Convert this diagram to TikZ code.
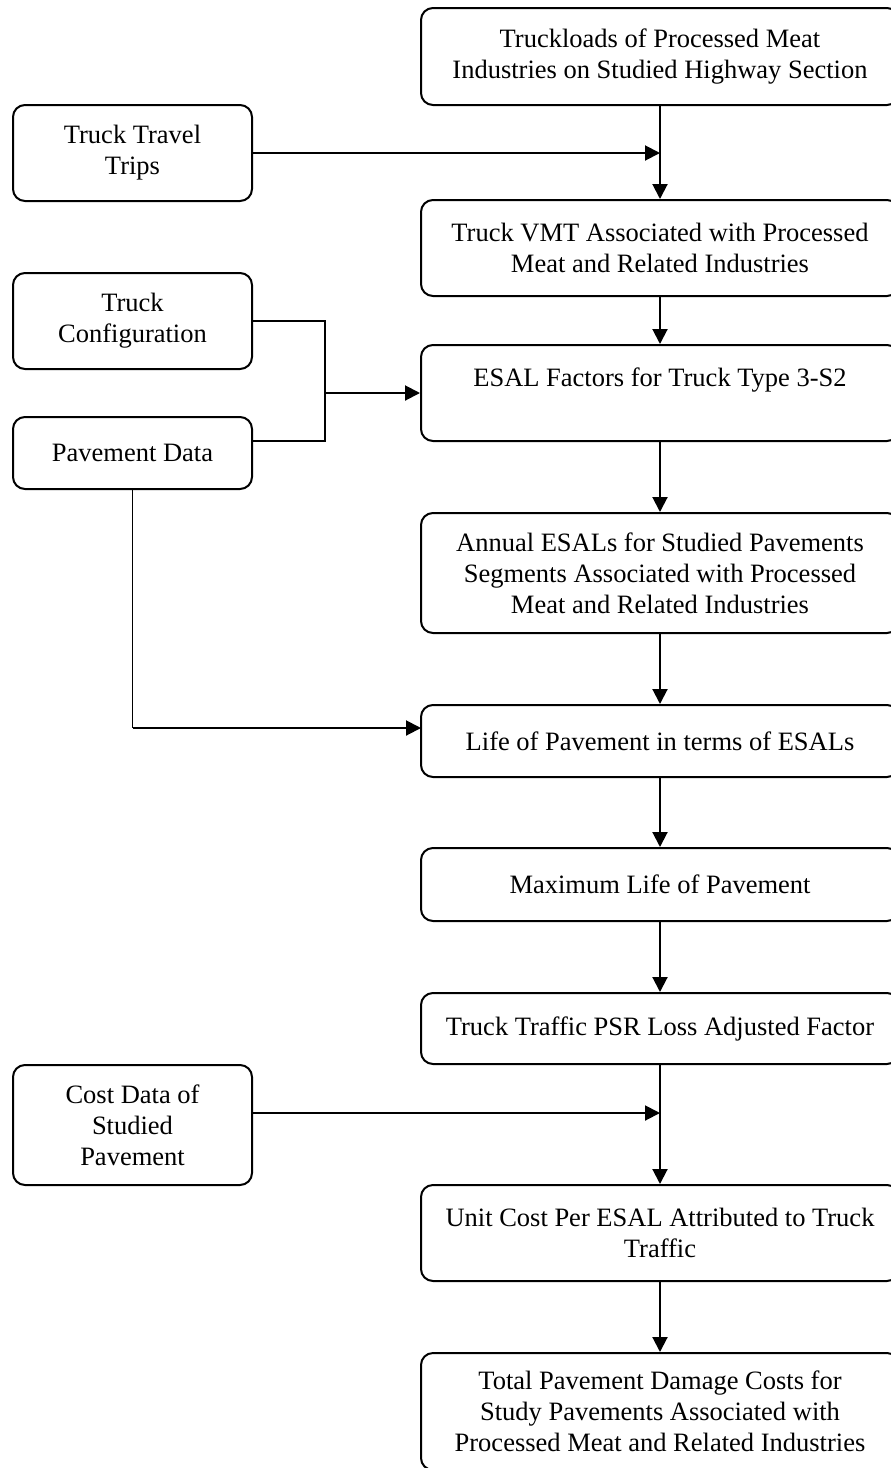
\documentclass[tikz,border=0pt]{standalone}
\usepackage{fontspec}
\setmainfont{Liberation Serif}
\usetikzlibrary{arrows.meta,calc}
\begin{document}
\begin{tikzpicture}[x=1pt,y=-1pt,
  box/.style={draw=black,line width=2pt,rounded corners=12pt,align=center,inner sep=0pt,
    font=\fontsize{26.5}{31}\selectfont},
  rbox/.style={box,minimum width=478pt},
  lbox/.style={box,minimum width=239pt},
  conn/.style={line width=2pt},
  thin/.style={line width=1.4pt},
  arr/.style={conn,-{Triangle[length=15pt,width=15pt]}}]
\useasboundingbox (0,0) rectangle (891,1468);
\node[rbox,minimum height=97pt] (b1) at (660,56.5) {Truckloads of Processed Meat\\Industries on Studied Highway Section};
\node[lbox,minimum height=96pt] (trips) at (132.5,153) {Truck Travel\\Trips};
\node[rbox,minimum height=96pt] (vmt) at (660,248) {Truck VMT Associated with Processed\\Meat and Related Industries};
\node[lbox,minimum height=96pt] (config) at (132.5,321) {Truck\\Configuration};
\node[rbox,minimum height=96pt] (esal) at (660,393) {ESAL Factors for Truck Type 3-S2\\\mbox{}};
\node[lbox,minimum height=72pt] (pav) at (132.5,453) {Pavement Data};
\node[rbox,minimum height=120pt] (annual) at (660,573) {Annual ESALs for Studied Pavements\\Segments Associated with Processed\\Meat and Related Industries};
\node[rbox,minimum height=72pt] (life) at (660,741) {Life of Pavement in terms of ESALs};
\node[rbox,minimum height=73pt] (max) at (660,884.5) {Maximum Life of Pavement};
\node[rbox,minimum height=71pt] (psr) at (660,1028.5) {Truck Traffic PSR Loss Adjusted Factor};
\node[lbox,minimum height=120pt] (cost) at (132.5,1125) {Cost Data of\\Studied\\Pavement};
\node[rbox,minimum height=96pt] (unit) at (660,1233) {Unit Cost Per ESAL Attributed to Truck\\Traffic};
\node[rbox,minimum height=117pt] (total) at (660,1411.5) {Total Pavement Damage Costs for\\Study Pavements Associated with\\Processed Meat and Related Industries};

\coordinate (j1) at (660,153);
\coordinate (j2) at (660,1113);
\coordinate (cfgout) at (252,321);
\coordinate (pavout) at (252,441);
\coordinate (jx) at (325,393);
\coordinate (lifein) at (421,728);

\draw[arr] (b1.south) -- (vmt.north);
\draw[arr] (trips.east) -- (j1);
\draw[arr] (vmt.south) -- (esal.north);
\draw[thin] (cfgout) -| (jx |- pavout) -- (pavout);
\draw[arr] (jx) -- (esal.west);
\draw[arr] (esal.south) -- (annual.north);
\draw[thin] (pav.south) -- (pav.south |- lifein);
\draw[arr] (pav.south |- lifein) -- (lifein);
\draw[arr] (annual.south) -- (life.north);
\draw[arr] (life.south) -- (max.north);
\draw[arr] (max.south) -- (psr.north);
\draw[arr] (psr.south) -- (unit.north);
\draw[arr] (cost.east |- j2) -- (j2);
\draw[arr] (unit.south) -- (total.north);
\end{tikzpicture}
\end{document}
